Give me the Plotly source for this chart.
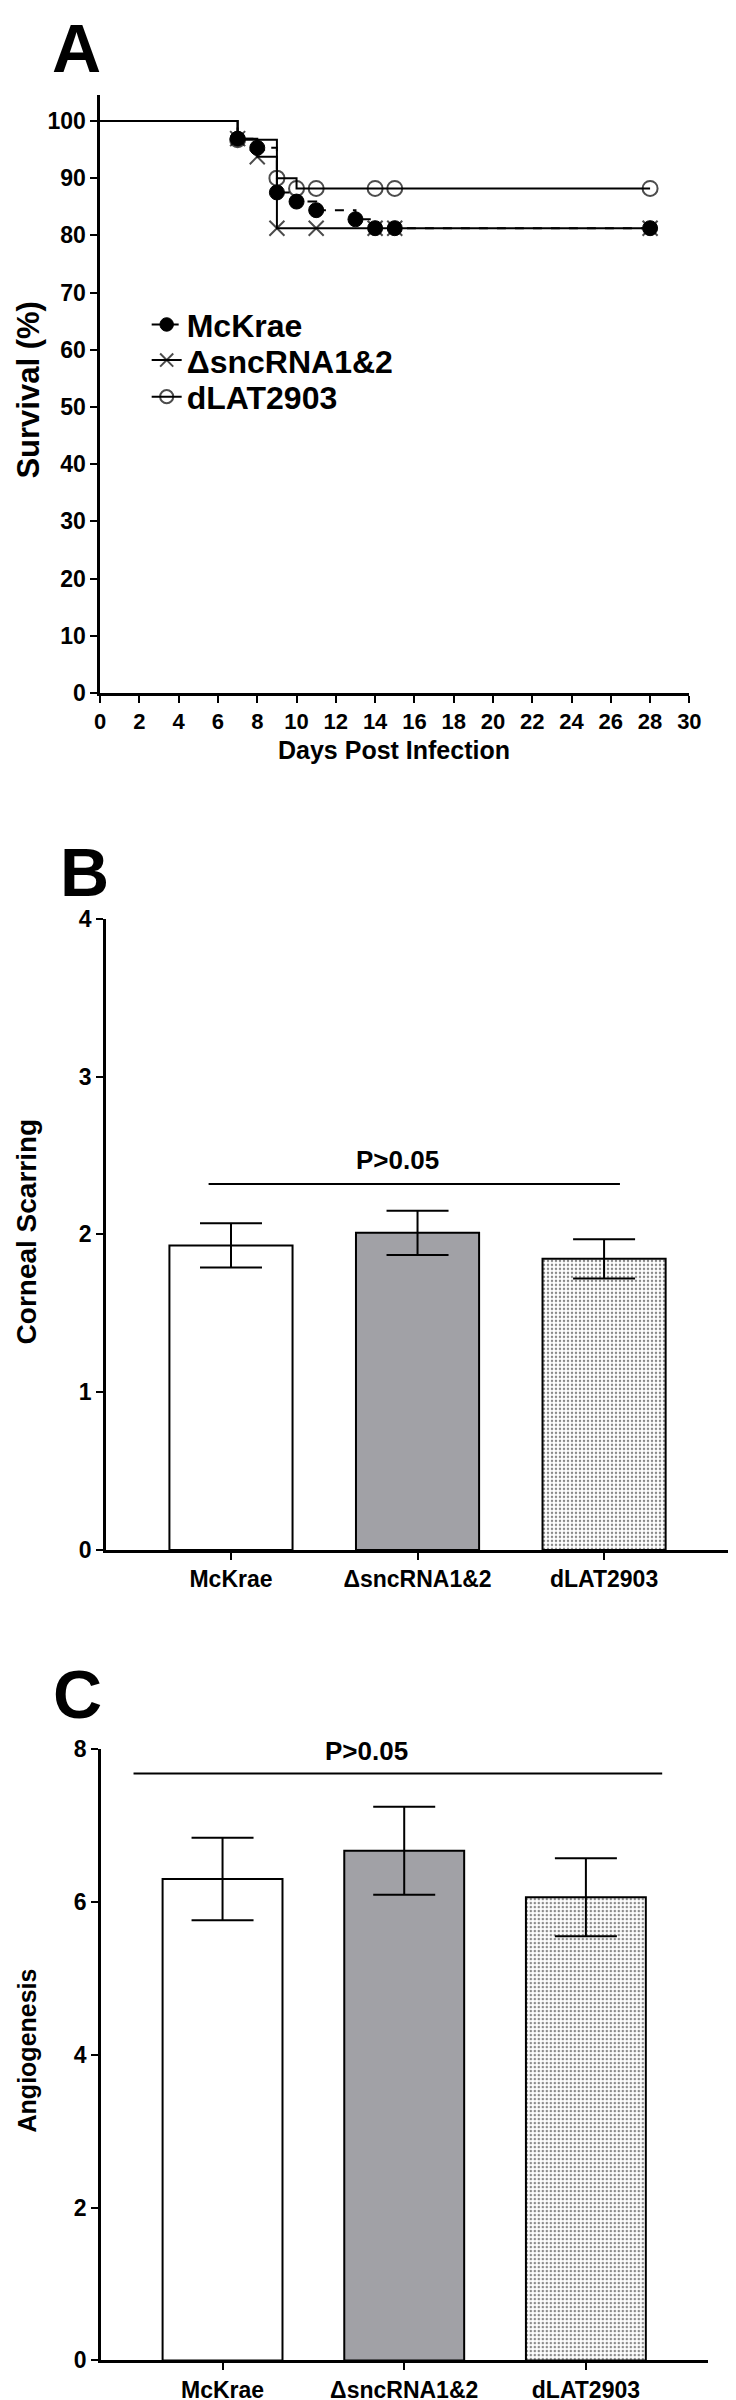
import plotly.graph_objects as go

# ---------------- data ----------------
# Panel A: Kaplan-Meier survival
days_mckrae = [0, 7, 8, 9, 10, 11, 13, 14, 15, 28]
surv_mckrae = [100, 96.9, 95.3, 87.5, 85.9, 84.4, 82.8, 81.25, 81.25, 81.25]
days_sncrna = [0, 7, 8, 9, 11, 14, 15, 28]
surv_sncrna = [100, 96.9, 93.75, 81.25, 81.25, 81.25, 81.25, 81.25]
days_dlat = [0, 7, 9, 10, 11, 14, 15, 28]
surv_dlat = [100, 96.7, 90.0, 88.2, 88.2, 88.2, 88.2, 88.2]
series_names = ["McKrae", "ΔsncRNA1&2", "dLAT2903"]

# Panels B and C: bar charts
categories = ["McKrae", "ΔsncRNA1&2", "dLAT2903"]
scar_mean = [1.93, 2.01, 1.845]
scar_sem = [0.14, 0.14, 0.125]
angio_mean = [6.30, 6.67, 6.06]
angio_sem = [0.54, 0.575, 0.51]
p_text = "P>0.05"

surv_xticks = list(range(0, 31, 2))
surv_yticks = list(range(0, 101, 10))
scar_yticks = [0, 1, 2, 3, 4]
angio_yticks = [0, 2, 4, 6, 8]

# ---------------- style ----------------
W, H = 736, 2400
FONT = "Liberation Sans, Arial, Helvetica, sans-serif"
GRAY = "#a1a1a6"


def px_x(p):
    return p / W


def px_y(p):
    return 1 - p / H


def msizes(n, s):
    return [0] + [s] * (n - 1)


def bfont(size):
    return dict(family=FONT, size=size, color="black", weight="bold")


fig = go.Figure()

# ---- Panel A traces (drawn dLAT, Δ, McKrae so McKrae is on top) ----
fig.add_trace(go.Scatter(
    x=days_dlat, y=surv_dlat, mode="lines+markers", name=series_names[2],
    line=dict(shape="hv", color="black", width=2),
    marker=dict(symbol="circle-open", size=msizes(len(days_dlat), 15), color="black",
                line=dict(width=2, color="black")),
    xaxis="x", yaxis="y", legend="legend3", cliponaxis=False))
fig.add_trace(go.Scatter(
    x=days_sncrna, y=surv_sncrna, mode="lines+markers", name=series_names[1],
    line=dict(shape="hv", color="black", width=2),
    marker=dict(symbol="x-thin", size=msizes(len(days_sncrna), 15), color="black",
                line=dict(width=2, color="black")),
    xaxis="x", yaxis="y", legend="legend2", cliponaxis=False))
fig.add_trace(go.Scatter(
    x=days_mckrae, y=surv_mckrae, mode="lines+markers", name=series_names[0],
    line=dict(shape="hv", color="black", width=2, dash="dash"),
    marker=dict(symbol="circle", size=msizes(len(days_mckrae), 15), color="black",
                line=dict(width=1, color="black"), opacity=1),
    xaxis="x", yaxis="y", legend="legend", cliponaxis=False))

# ---- Panel B / C bars (one trace per group so each has its own fill) ----
fills = [
    dict(color="white"),
    dict(color=GRAY),
    dict(color="white", pattern=dict(shape=".", fgcolor="#8a8a8a", bgcolor="white",
                                     size=4, solidity=0.3, fillmode="replace")),
]
for xa, ya, means, sems in (("x2", "y2", scar_mean, scar_sem),
                            ("x3", "y3", angio_mean, angio_sem)):
    for i, cat in enumerate(categories):
        fig.add_trace(go.Bar(
            x=[cat], y=[means[i]], width=0.66, showlegend=False,
            marker=dict(line=dict(color="black", width=2), **fills[i]),
            error_y=dict(type="data", array=[sems[i]], visible=True, color="black",
                         thickness=2, width=31),
            xaxis=xa, yaxis=ya))

axis_common = dict(showline=True, linecolor="black", linewidth=2.5, ticks="outside",
                   ticklen=7, tickwidth=2, tickcolor="black", showgrid=False,
                   zeroline=False)

layout = dict(
    width=W, height=H, margin=dict(l=0, r=0, t=0, b=0),
    paper_bgcolor="white", plot_bgcolor="white",
    font=dict(family=FONT, color="black", weight="bold"),
    barmode="overlay",
    xaxis=dict(domain=[px_x(88.3), px_x(692.3)], range=[0, 30], tickvals=surv_xticks,
               anchor="y", tickfont=bfont(22), **axis_common),
    yaxis=dict(domain=[px_y(679.3), px_y(75)], range=[0, 104.5], tickvals=surv_yticks,
               anchor="x", tickfont=bfont(23), **axis_common),
    xaxis2=dict(domain=[px_x(94.3), px_x(733)], range=[-0.67, 2.67], anchor="y2",
                type="category", categoryorder="array", categoryarray=categories,
                tickfont=bfont(23), **axis_common),
    yaxis2=dict(domain=[px_y(1545.7), px_y(907.7)], range=[0, 4], tickvals=scar_yticks,
                anchor="x2", tickfont=bfont(23), **axis_common),
    xaxis3=dict(domain=[px_x(89), px_x(711)], range=[-0.67, 2.67], anchor="y3",
                type="category", categoryorder="array", categoryarray=categories,
                tickfont=bfont(23), **axis_common),
    yaxis3=dict(domain=[px_y(2365), px_y(1747)], range=[0, 8], tickvals=angio_yticks,
                anchor="x3", tickfont=bfont(23), **axis_common),
)

for key, row in (("legend", 307), ("legend2", 343), ("legend3", 380)):
    layout[key] = dict(x=px_x(136), y=px_y(row), xanchor="left", yanchor="middle",
                       bgcolor="rgba(0,0,0,0)", borderwidth=0, font=bfont(32),
                       itemwidth=30, itemsizing="trace")

fig.update_layout(**layout)

# significance lines
fig.add_shape(type="line", xref="x2", yref="y2", x0=-0.12, x1=2.085, y0=2.32, y1=2.32,
              line=dict(color="black", width=2))
fig.add_shape(type="line", xref="x3", yref="y3", x0=-0.49, x1=2.42, y0=7.68, y1=7.68,
              line=dict(color="black", width=2))

annots = []
# P-values
annots.append(dict(text=p_text, xref="x2", yref="y2", x=0.895, y=2.47, showarrow=False,
                   font=bfont(26), xanchor="center", yanchor="middle"))
annots.append(dict(text=p_text, xref="x3", yref="y3", x=0.79, y=7.98, showarrow=False,
                   font=bfont(26), xanchor="center", yanchor="middle"))
# panel letters
for letter, (lx, ly) in (("A", (64, 27)), ("B", (72, 860)), ("C", (65, 1691))):
    annots.append(dict(text=letter, xref="paper", yref="paper", x=px_x(lx), y=px_y(ly),
                       showarrow=False, xanchor="center", yanchor="middle",
                       font=bfont(68)))
# axis titles
annots.append(dict(text="Days Post Infection", xref="paper", yref="paper",
                   x=px_x(390), y=px_y(737), showarrow=False, xanchor="center",
                   yanchor="middle", font=bfont(25)))
for txt, (tx, ty), fs in (("Survival (%)", (15, 373), 31),
                          ("Corneal Scarring", (13, 1224), 28),
                          ("Angiogenesis", (13, 2052), 25)):
    annots.append(dict(text=txt, xref="paper", yref="paper", x=px_x(tx), y=px_y(ty),
                       textangle=-90, showarrow=False, xanchor="center", yanchor="middle",
                       font=bfont(fs)))
fig.update_layout(annotations=annots)

fig.write_html("out.html")
